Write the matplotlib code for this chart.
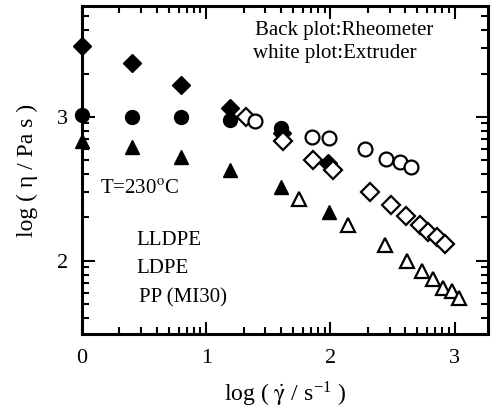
import numpy as np
import matplotlib
matplotlib.use('Agg')
import matplotlib.pyplot as plt

plt.rcParams['font.family'] = 'Liberation Serif'
plt.rcParams['mathtext.fontset'] = 'stix'

# rheometer (filled) data
lldpe_rh_x = [0.0, 0.40, 0.80, 1.19, 1.61, 1.98]
lldpe_rh_y = [3.49, 3.375, 3.22, 3.06, 2.89, 2.68]
ldpe_rh_x = [0.0, 0.40, 0.80, 1.19, 1.60]
ldpe_rh_y = [3.01, 3.00, 3.00, 2.98, 2.92]
pp_rh_x = [0.0, 0.40, 0.80, 1.19, 1.60, 1.99]
pp_rh_y = [2.83, 2.79, 2.72, 2.63, 2.51, 2.34]

# extruder (open) data
lldpe_ex_x = [1.32, 1.62, 1.86, 2.02, 2.32, 2.49, 2.61, 2.72, 2.79, 2.86, 2.92]
lldpe_ex_y = [3.00, 2.83, 2.70, 2.63, 2.48, 2.39, 2.31, 2.25, 2.20, 2.165, 2.12]
ldpe_ex_x = [1.39, 1.85, 1.99, 2.28, 2.45, 2.56, 2.65]
ldpe_ex_y = [2.97, 2.86, 2.85, 2.78, 2.71, 2.69, 2.65]
pp_ex_x = [1.75, 2.14, 2.44, 2.62, 2.74, 2.83, 2.91, 2.98, 3.04]
pp_ex_y = [2.43, 2.25, 2.11, 2.00, 1.93, 1.87, 1.81, 1.79, 1.74]

fig = plt.figure(figsize=(4.91, 4.08), dpi=100)
ax = fig.add_axes([0.167, 0.181, 0.827, 0.804])

ms = 10
# filled markers
ax.plot(lldpe_rh_x, lldpe_rh_y, 'kD', ms=ms * 0.9, ls='none', clip_on=False)
ax.plot(ldpe_rh_x, ldpe_rh_y, 'ko', ms=ms, ls='none', clip_on=False)
ax.plot(pp_rh_x, pp_rh_y, 'k^', ms=ms, ls='none', clip_on=False)
# open markers
ax.plot(lldpe_ex_x, lldpe_ex_y, 'D', mfc='white', mec='black', mew=1.6, ms=ms * 0.9, ls='none')
ax.plot(ldpe_ex_x, ldpe_ex_y, 'o', mfc='white', mec='black', mew=1.6, ms=ms, ls='none')
ax.plot(pp_ex_x, pp_ex_y, '^', mfc='white', mec='black', mew=1.6, ms=ms, ls='none')

# log-style minor ticks inside each decade
k = np.log10(np.arange(2, 10))
ax.set_xticks([0, 1, 2, 3])
ax.set_xticks(np.concatenate([d + k for d in range(0, 4)]), minor=True)
ax.set_yticks([2, 3])
ax.set_yticks(np.concatenate([d + k for d in range(1, 4)]), minor=True)
ax.set_xlim(0, 3.27)
ax.set_ylim(1.49, 3.77)

for s in ax.spines.values():
    s.set_linewidth(2.2)
ax.tick_params(which='both', direction='in', top=True, right=True, width=1.5, labelsize=16)
ax.tick_params(which='major', length=9)
ax.tick_params(axis='x', which='major', pad=11)
ax.tick_params(axis='y', which='major', pad=10)
ax.tick_params(which='minor', length=5)

ax.set_xlabel(r'log ( $\dot{\mathrm{\gamma}}$ / s$^{\mathregular{-1}}$ )', fontsize=17, labelpad=8)
ax.set_ylabel('log ( η / Pa s )', fontsize=17, labelpad=14)

ax.text(0.425, 0.925, 'Back plot:Rheometer', transform=ax.transAxes, fontsize=15, va='center')
ax.text(0.42, 0.855, 'white plot:Extruder', transform=ax.transAxes, fontsize=15, va='center')
ax.text(0.045, 0.44, r'T=230$^{\mathrm{o}}$C', transform=ax.transAxes, fontsize=15, va='center')
ax.text(0.135, 0.285, 'LLDPE', transform=ax.transAxes, fontsize=15, va='center')
ax.text(0.135, 0.2, 'LDPE', transform=ax.transAxes, fontsize=15, va='center')
ax.text(0.14, 0.11, 'PP (MI30)', transform=ax.transAxes, fontsize=15, va='center')

fig.savefig('out.png', dpi=100)
